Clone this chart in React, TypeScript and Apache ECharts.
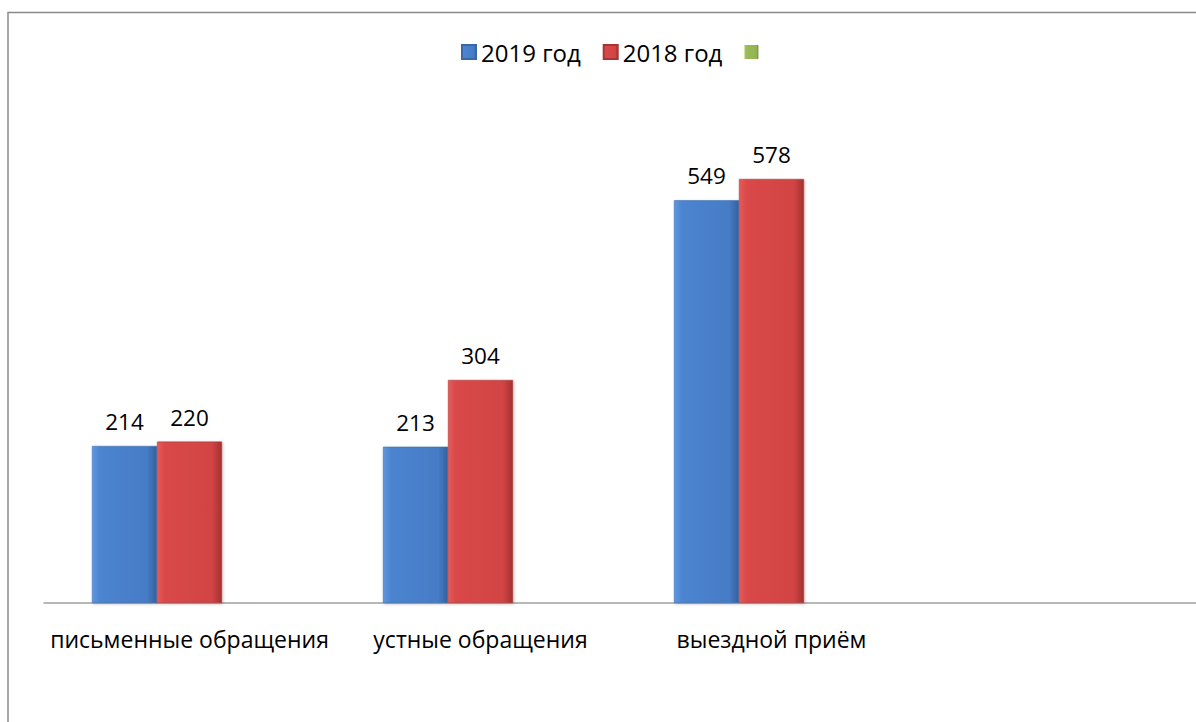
import React, { useEffect, useRef } from "react";
import * as echarts from "echarts";

const categories = ["письменные обращения", "устные обращения", "выездной приём", ""];
const series2019 = [214, 213, 549, null];
const series2018 = [220, 304, 578, null];
const seriesEmpty = [null, null, null, null];
const seriesNames = ["2019 год", "2018 год", " "];

const FONT = "'Open Sans', 'Noto Sans', sans-serif";

function hGrad(c0: string, c1: string, c2: string, c3: string) {
  return new echarts.graphic.LinearGradient(0, 0, 1, 0, [
    { offset: 0, color: c0 },
    { offset: 0.12, color: c1 },
    { offset: 0.85, color: c2 },
    { offset: 1, color: c3 },
  ]);
}

export default function App() {
  const ref = useRef<HTMLDivElement>(null);
  useEffect(() => {
    if (!ref.current) return;
    const chart = echarts.init(ref.current, null, { renderer: "svg" });
    const blue = hGrad("#5d97e0", "#4c84d0", "#467cc6", "#34609f");
    const red = hGrad("#e65b5b", "#d94848", "#d24444", "#a33131");
    const green = hGrad("#b3d06d", "#9bbb59", "#94b354", "#708a3c");
    const labelStyle = {
      show: true,
      position: "top" as const,
      distance: 13,
      fontSize: 22.5,
      fontFamily: FONT,
      color: "#000",
    };
    chart.setOption({
      animation: false,
      backgroundColor: "#fff",
      textStyle: { fontFamily: FONT },
      legend: {
        left: 456,
        top: 35,
        itemWidth: 14,
        itemHeight: 14,
        itemGap: 22,
        icon: "rect",
        textStyle: { fontSize: 24, fontFamily: FONT, color: "#000" },
        data: seriesNames,
      },
      grid: {
        left: 44,
        width: 1164,
        top: 89.5,
        bottom: 119,
        containLabel: false,
        outerBoundsMode: "none",
      },
      xAxis: {
        type: "category",
        data: categories,
        axisLine: { show: true, lineStyle: { color: "#a0a0a0", width: 1.5 } },
        axisTick: { show: false },
        axisLabel: { fontSize: 23, fontFamily: FONT, color: "#000", margin: 24, interval: 0 },
        splitLine: { show: false },
      },
      yAxis: { type: "value", min: 0, max: 700, show: false, splitLine: { show: false } },
      series: [
        {
          name: seriesNames[0],
          type: "bar",
          data: series2019,
          barWidth: 65,
          barGap: "0%",
          itemStyle: { color: blue, borderColor: "#3a67a8", borderWidth: 0.5, shadowColor: "rgba(0,0,0,0.25)", shadowBlur: 3, shadowOffsetX: 1, shadowOffsetY: 1 },
          label: labelStyle,
        },
        {
          name: seriesNames[1],
          type: "bar",
          data: series2018,
          barWidth: 65,
          barGap: "0%",
          itemStyle: { color: red, borderColor: "#a83434", borderWidth: 0.5, shadowColor: "rgba(0,0,0,0.25)", shadowBlur: 3, shadowOffsetX: 1, shadowOffsetY: 1 },
          label: labelStyle,
        },
        {
          name: seriesNames[2],
          type: "bar",
          data: seriesEmpty,
          barWidth: 65,
          barGap: "0%",
          itemStyle: { color: green },
        },
      ],
      graphic: [
        {
          type: "rect",
          shape: { x: 8, y: 12.5, width: 1400, height: 1000 },
          style: { fill: "none", stroke: "#8a8a8a", lineWidth: 1.5 },
          silent: true,
        },
      ],
    });
    return () => chart.dispose();
  }, []);
  return (
    <div
      ref={ref}
      style={{ position: "fixed", left: 0, top: 0, width: 1196, height: 722 }}
    />
  );
}
